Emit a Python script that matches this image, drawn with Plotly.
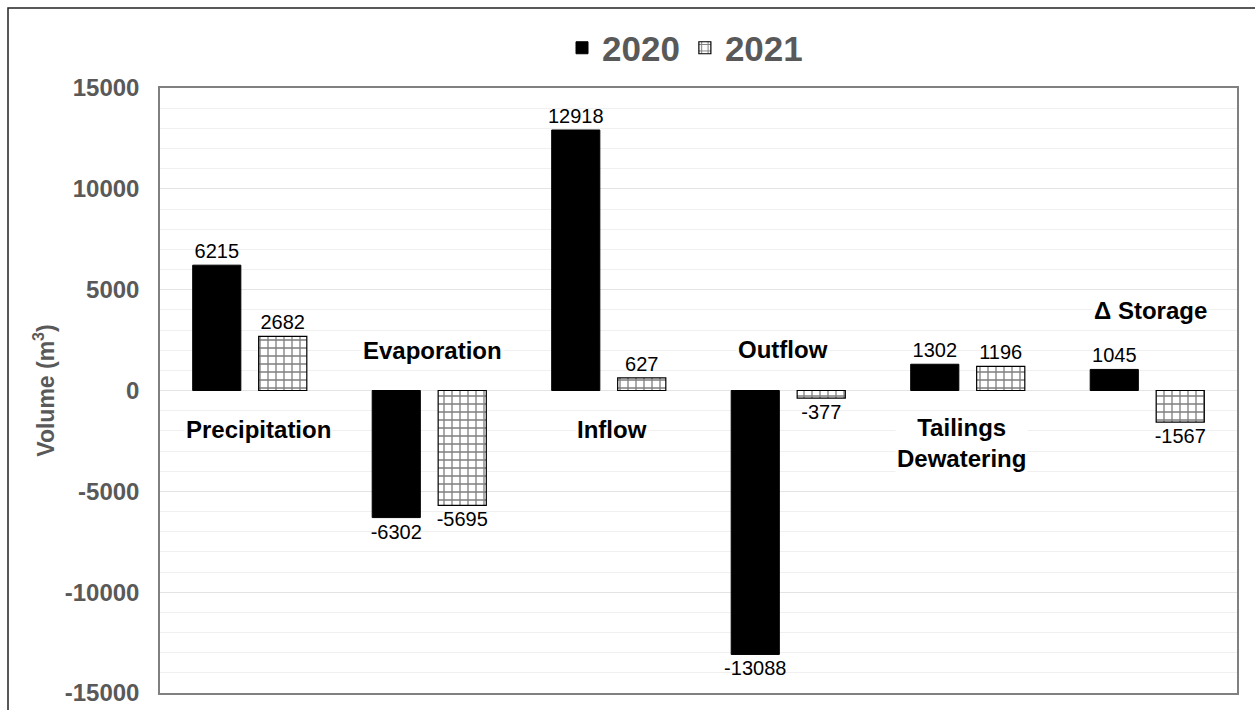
import plotly.graph_objects as go

categories = ["Precipitation", "Evaporation", "Inflow", "Outflow", "Tailings Dewatering", "Δ Storage"]
values_2020 = [6215, -6302, 12918, -13088, 1302, 1045]
values_2021 = [2682, -5695, 627, -377, 1196, -1567]
series_names = ["2020", "2021"]
y_ticks = [-15000, -10000, -5000, 0, 5000, 10000, 15000]
y_tick_text = ["-15000", "-10000", "-5000", "0", "5000", "10000", "15000"]

# category label placement (text, y in data units, x shift in px)
cat_labels = ["Precipitation", "Evaporation", "Inflow", "Outflow", "Tailings<br>Dewatering", "Δ Storage"]
cat_label_y = [-1950, 2000, -1950, 2050, -2600, 3950]
cat_label_xshift = [9, 3, 3, -5, -6, 3]

FONT = "Liberation Sans, Arial, Helvetica, sans-serif"
W, H = 1255, 710
L, R, T, B = 160, 18, 88, 17
PW, PH = W - L - R, H - T - B

fig = go.Figure()
fig.add_trace(go.Bar(
    x=categories, y=values_2020, name=series_names[0],
    marker=dict(color="black", line=dict(color="black", width=1)),
    text=[str(v) for v in values_2020], textposition="outside",
    textfont=dict(family=FONT, size=20, color="black"),
    constraintext="none", cliponaxis=False,
))
fig.add_trace(go.Bar(
    x=categories, y=values_2021, name=series_names[1],
    marker=dict(color="white", line=dict(color="black", width=1.2),
                pattern=dict(shape="+", fgcolor="black", bgcolor="white", size=8, solidity=0.3)),
    text=[str(v) for v in values_2021], textposition="outside",
    textfont=dict(family=FONT, size=20, color="black"),
    constraintext="none", cliponaxis=False,
))

annotations = []
for c, t, yy, xs in zip(categories, cat_labels, cat_label_y, cat_label_xshift):
    annotations.append(dict(
        x=c, y=yy, xref="x", yref="y", text=t, showarrow=False, xshift=xs,
        font=dict(family=FONT, size=24, color="black", weight="bold"),
        bgcolor="white", yanchor="middle", xanchor="center",
    ))

shapes = [dict(
    type="rect", xref="paper", yref="paper",
    x0=(8 - L) / PW, x1=(W + 30 - L) / PW,
    y0=-(B + 30) / PH, y1=1 + (T - 8) / PH,
    line=dict(color="#222222", width=1.5), fillcolor="rgba(0,0,0,0)", layer="above",
)]

fig.update_layout(
    width=W, height=H,
    margin=dict(l=L, r=R, t=T, b=B, pad=0, autoexpand=False),
    paper_bgcolor="white", plot_bgcolor="white",
    barmode="group", bargap=0.265, bargroupgap=0.27,
    font=dict(family=FONT),
    legend=dict(
        orientation="h", x=(685 - L) / PW, xanchor="center",
        y=1 + (T - 48) / PH, yanchor="middle",
        font=dict(family=FONT, size=35, color="#595959", weight="bold"),
        itemwidth=30, traceorder="normal",
    ),
    annotations=annotations,
    shapes=shapes,
    xaxis=dict(
        showticklabels=False, showgrid=False, ticks="", automargin=False,
        showline=True, linecolor="#808080", linewidth=1.5, mirror=True,
    ),
    yaxis=dict(
        range=[-15000, 15000], tickvals=y_ticks, ticktext=y_tick_text, ticks="",
        automargin=False,
        tickfont=dict(family=FONT, size=24, color="#595959", weight="bold"),
        showgrid=True, gridcolor="#e4e4e4", gridwidth=1,
        zeroline=True, zerolinecolor="#e4e4e4", zerolinewidth=1,
        minor=dict(dtick=1000, showgrid=True, gridcolor="#f0f0f0", gridwidth=1),
        showline=True, linecolor="#808080", linewidth=1.5, mirror=True,
        ticklabelstandoff=14,
        title=dict(text="Volume (m<sup>3</sup>)", standoff=4,
                   font=dict(family=FONT, size=23, color="#595959", weight="bold")),
    ),
)

fig.write_html("out.html")
